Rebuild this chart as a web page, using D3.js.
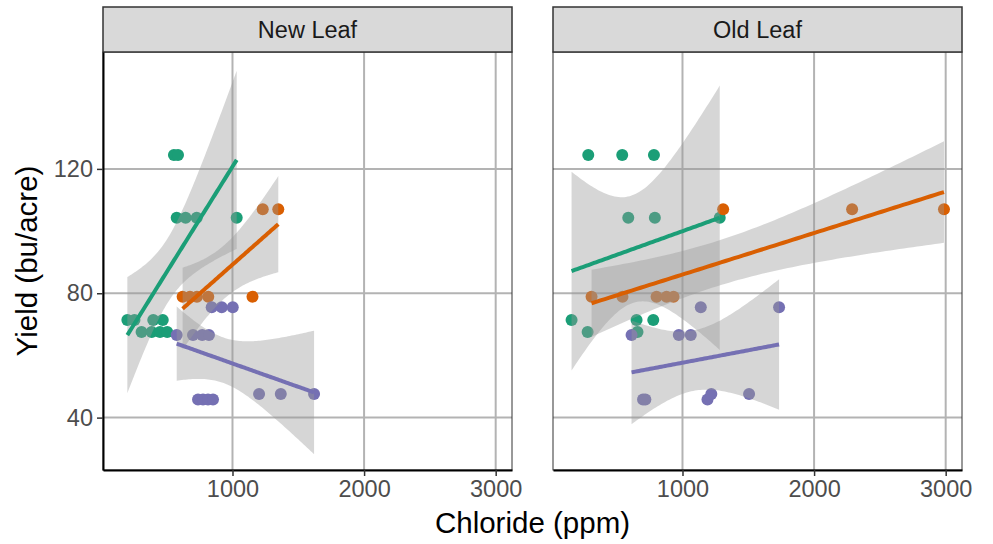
<!DOCTYPE html>
<html><head><meta charset="utf-8">
<script src="https://cdn.jsdelivr.net/npm/d3@7"></script>
<style>
body{margin:0;background:#fff}
svg{display:block}
text{font-family:"Liberation Sans",Arial,Helvetica,sans-serif}
</style></head>
<body><svg id="chart" width="993" height="544"></svg>
<script>
// ---------- data ----------
const facetNames = ["New Leaf", "Old Leaf"];
const groupColors = ["#1B9E77", "#D95F02", "#7570B3"];
const xTickValues = [1000, 2000, 3000];
const yTickValues = [40, 80, 120];
const xTitle = "Chloride (ppm)";
const yTitle = "Yield (bu/acre)";

// New Leaf
const newLeafG1Chloride = [555, 586, 576, 644, 728, 1032, 201, 255, 398, 470, 309, 386, 449, 504];
const newLeafG1Yield    = [124.5, 124.5, 104.3, 104.3, 104.3, 104.3, 71.4, 71.4, 71.4, 71.4, 67.5, 67.5, 67.5, 67.5];
const newLeafG2Chloride = [621, 677, 730, 816, 1152, 1230, 1348];
const newLeafG2Yield    = [78.9, 78.9, 78.9, 78.9, 78.9, 107, 107];
const newLeafG3Chloride = [842, 918, 1002, 576, 700, 770, 821, 738, 776, 814, 852, 1202, 1367, 1620];
const newLeafG3Yield    = [75.5, 75.5, 75.5, 66.6, 66.6, 66.6, 66.6, 45.8, 45.8, 45.8, 45.8, 47.6, 47.6, 47.6];

// Old Leaf
const oldLeafG1Chloride = [284, 542, 783, 588, 790, 1283, 157, 651, 778, 279, 658];
const oldLeafG1Yield    = [124.5, 124.5, 124.5, 104.3, 104.3, 104.3, 71.4, 71.4, 71.4, 67.5, 67.5];
const oldLeafG2Chloride = [309, 544, 803, 879, 932, 1309, 2289, 2987];
const oldLeafG2Yield    = [78.9, 78.9, 78.9, 78.9, 78.9, 107, 107, 107];
const oldLeafG3Chloride = [1139, 1734, 613, 972, 1063, 700, 718, 1190, 1219, 1506];
const oldLeafG3Yield    = [75.5, 75.5, 66.6, 66.6, 66.6, 45.8, 45.8, 45.8, 47.6, 47.6];

// t quantiles (0.975) by degrees of freedom
const t975 = [NaN,12.706,4.303,3.182,2.776,2.571,2.447,2.365,2.306,2.262,2.228,2.201,2.179,2.160,2.145,2.131,2.120,2.110,2.101,2.093,2.086];

const facetData = [
  [[newLeafG1Chloride, newLeafG1Yield],[newLeafG2Chloride, newLeafG2Yield],[newLeafG3Chloride, newLeafG3Yield]],
  [[oldLeafG1Chloride, oldLeafG1Yield],[oldLeafG2Chloride, oldLeafG2Yield],[oldLeafG3Chloride, oldLeafG3Yield]]
];

// ---------- layout ----------
const svg = d3.select("#chart");
const panelX = [[103, 512], [553, 962]];
const panelTop = 52, panelBottom = 470, stripTop = 7;
const xDomain = [16, 3124];
const yDomain = [23.15, 157.6];
const y = d3.scaleLinear().domain(yDomain).range([panelBottom, panelTop]);
const tickFont = 23.5, titleFont = 29.5;

function lmFit(xs, ys) {
  const n = xs.length;
  const mx = d3.mean(xs), my = d3.mean(ys);
  let sxx = 0, sxy = 0;
  for (let i = 0; i < n; i++) { sxx += (xs[i]-mx)**2; sxy += (xs[i]-mx)*(ys[i]-my); }
  const b = sxy / sxx, a = my - b*mx;
  let rss = 0;
  for (let i = 0; i < n; i++) rss += (ys[i] - a - b*xs[i])**2;
  const s = Math.sqrt(rss / (n-2));
  const t = t975[n-2] || 1.96;
  const lo = d3.min(xs), hi = d3.max(xs);
  return d3.range(80).map(k => {
    const xv = lo + (hi-lo)*k/79;
    const fv = a + b*xv;
    const se = s*Math.sqrt(1/n + (xv-mx)**2/sxx);
    return {x: xv, y: fv, lo: fv - t*se, hi: fv + t*se};
  });
}

const defs = svg.append("defs");

facetNames.forEach((name, fi) => {
  const [x0, x1] = panelX[fi];
  const x = d3.scaleLinear().domain(xDomain).range([x0, x1]);
  const g = svg.append("g");
  defs.append("clipPath").attr("id", "clip"+fi)
    .append("rect").attr("x", x0).attr("y", panelTop).attr("width", x1-x0).attr("height", panelBottom-panelTop);

  g.append("rect").attr("x", x0).attr("y", panelTop).attr("width", x1-x0).attr("height", panelBottom-panelTop).attr("fill", "#fff");

  // grid
  g.selectAll(".gx").data(xTickValues).join("line")
    .attr("x1", d => x(d)).attr("x2", d => x(d)).attr("y1", panelTop).attr("y2", panelBottom)
    .attr("stroke", "#B3B3B3").attr("stroke-width", 2);
  g.selectAll(".gy").data(yTickValues).join("line")
    .attr("x1", x0).attr("x2", x1).attr("y1", d => y(d)).attr("y2", d => y(d))
    .attr("stroke", "#B3B3B3").attr("stroke-width", 2);

  const plot = g.append("g").attr("clip-path", "url(#clip"+fi+")");

  // points
  facetData[fi].forEach(([xs, ys], gi) => {
    plot.append("g").selectAll("circle").data(xs.map((v, i) => [v, ys[i]])).join("circle")
      .attr("cx", d => x(d[0])).attr("cy", d => y(d[1])).attr("r", 6)
      .attr("fill", groupColors[gi]);
  });

  // smooths (lm with 95% CI)
  facetData[fi].forEach(([xs, ys], gi) => {
    const f = lmFit(xs, ys);
    plot.append("path").datum(f)
      .attr("d", d3.area().x(d => x(d.x)).y0(d => y(d.lo)).y1(d => y(d.hi)))
      .attr("fill", "#999999").attr("fill-opacity", 0.4);
    plot.append("path").datum(f)
      .attr("d", d3.line().x(d => x(d.x)).y(d => y(d.y)))
      .attr("fill", "none").attr("stroke", groupColors[gi]).attr("stroke-width", 4);
  });

  // panel border
  g.append("rect").attr("x", x0).attr("y", panelTop).attr("width", x1-x0).attr("height", panelBottom-panelTop)
    .attr("fill", "none").attr("stroke", "#333").attr("stroke-width", 1);

  // strip
  g.append("rect").attr("x", x0).attr("y", stripTop).attr("width", x1-x0).attr("height", panelTop-stripTop)
    .attr("fill", "#D9D9D9").attr("stroke", "#333").attr("stroke-width", 1.5);
  g.append("text").attr("x", (x0+x1)/2).attr("y", (stripTop+panelTop)/2).attr("dy", "0.35em")
    .attr("text-anchor", "middle").attr("font-size", tickFont).attr("fill", "#1A1A1A").text(name);

  // x axis
  const xa = g.append("g").attr("transform", `translate(0,${panelBottom})`)
    .call(d3.axisBottom(x).tickValues(xTickValues).tickSize(6).tickSizeOuter(0).tickPadding(4).tickFormat(d3.format("d")));
  xa.select(".domain").attr("stroke", "#000").attr("stroke-width", 2);
  xa.selectAll(".tick line").attr("stroke", "#333").attr("stroke-width", 1.5);
  xa.selectAll(".tick text").attr("font-size", tickFont).attr("fill", "#4D4D4D")
    .attr("font-family", '"Liberation Sans",Arial,sans-serif');

  if (fi === 0) {
    const ya = g.append("g").attr("transform", `translate(${x0},0)`)
      .call(d3.axisLeft(y).tickValues(yTickValues).tickSize(6).tickSizeOuter(0).tickPadding(4));
    ya.select(".domain").attr("stroke", "#000").attr("stroke-width", 2);
    ya.selectAll(".tick line").attr("stroke", "#333").attr("stroke-width", 1.5);
    ya.selectAll(".tick text").attr("font-size", tickFont).attr("fill", "#4D4D4D")
      .attr("font-family", '"Liberation Sans",Arial,sans-serif');
  }
});

// axis titles
svg.append("text").attr("x", (panelX[0][0]+panelX[1][1])/2).attr("y", 533)
  .attr("text-anchor", "middle").attr("font-size", titleFont).attr("fill", "#000").text(xTitle);
svg.append("text").attr("transform", `translate(37,${(panelTop+panelBottom)/2}) rotate(-90)`)
  .attr("text-anchor", "middle").attr("font-size", titleFont).attr("fill", "#000").text(yTitle);
</script>
</body></html>
